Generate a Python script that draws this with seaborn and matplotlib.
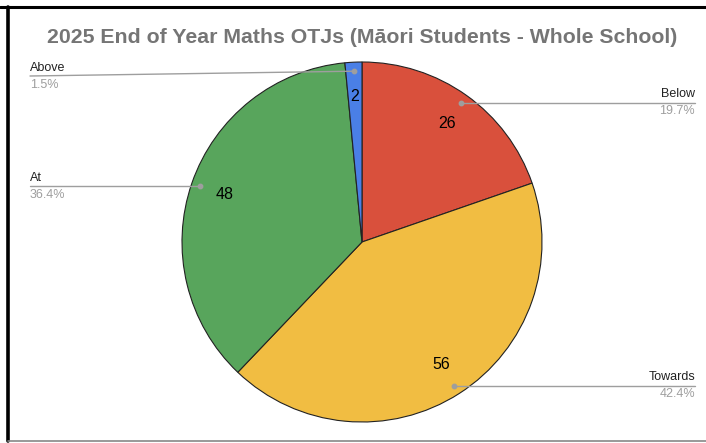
import matplotlib
matplotlib.use("Agg")
import matplotlib.pyplot as plt
from matplotlib.lines import Line2D
import numpy as np
import seaborn as sns

# Whole-school Māori student maths OTJ counts
categories = ["Below", "Towards", "At", "Above"]
counts = [26, 56, 48, 2]
percent_labels = ["19.7%", "42.4%", "36.4%", "1.5%"]
slice_colors = ["#d9503c", "#f1bd42", "#58a55c", "#4a7fe6"]
title = "2025 End of Year Maths OTJs (Māori Students - Whole School)"

sns.set_theme(style="white")
plt.rcParams["font.family"] = ["Liberation Sans", "DejaVu Sans"]

W, H = 706, 443
fig = plt.figure(figsize=(W / 100, H / 100), dpi=100)
ax = fig.add_axes([0, 0, 1, 1])

cx, cy, r = 362, H - 242, 180
wedges, texts, autotexts = ax.pie(
    counts,
    colors=slice_colors,
    startangle=90,
    counterclock=False,
    center=(cx, cy),
    radius=r,
    autopct=lambda p: f"{p * sum(counts) / 100:.0f}",
    pctdistance=0.81,
    wedgeprops=dict(edgecolor="#222222", linewidth=0.8),
    textprops=dict(fontsize=11.5, color="black"),
    frame=True,
)
ax.set_xlim(0, W)
ax.set_ylim(0, H)
ax.set_aspect("equal")
ax.axis("off")

# Leader lines with category name and share
for w, name, pct in zip(wedges, categories, percent_labels):
    mid = np.deg2rad((w.theta1 + w.theta2) / 2)
    dx, dy = np.cos(mid), np.sin(mid)
    px, py = cx + 0.95 * r * dx, cy + 0.95 * r * dy
    ly = min(py, H - 76)
    if dx >= 0:
        xend, ha = 695, "right"
    else:
        xend, ha = 30, "left"
    ax.plot([px, xend], [py, ly], color="#9e9e9e", lw=1.0, zorder=5)
    ax.plot([px], [py], "o", color="#9e9e9e", ms=3.2, zorder=6)
    ax.text(xend, ly + 2.5, name, ha=ha, va="bottom", fontsize=9, color="#222222")
    ax.text(xend, ly - 2.5, pct, ha=ha, va="top", fontsize=9, color="#9e9e9e")

ax.text(362, H - 37, title, ha="center", va="center", fontsize=15.3,
        fontweight="bold", color="#757575")

# Surrounding frame
fig.add_artist(Line2D([0, 1], [1 - 7 / H, 1 - 7 / H], color="black", lw=2.2,
                      transform=fig.transFigure))
fig.add_artist(Line2D([8 / W, 8 / W], [1 - 7 / H, 1 - 441 / H], color="black", lw=2.6,
                      transform=fig.transFigure))
fig.add_artist(Line2D([8 / W, 1], [1 - 441 / H, 1 - 441 / H], color="#888888", lw=1.2,
                      transform=fig.transFigure))

fig.savefig("out.png", dpi=100, facecolor="white")
